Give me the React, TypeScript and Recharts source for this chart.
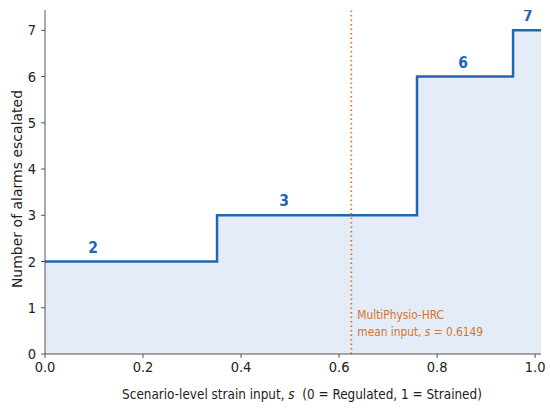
import React from 'react'
import { ComposedChart, Area, Scatter, XAxis, YAxis, ReferenceLine } from 'recharts'

// step positions (s) and escalated alarm counts
const stepStarts = [0, 0.351, 0.759, 0.955, 1.012]
const alarmCounts = [2, 3, 6, 7, 7]

// bold count labels above each step
const labelPositions = [0.098, 0.488, 0.853, 0.985]
const labelValues = [2, 3, 6, 7]

const xTicks = [0, 0.2, 0.4, 0.6, 0.8, 1.0]
const yTicks = [0, 1, 2, 3, 4, 5, 6, 7]

// dotted marker line as drawn, and its annotation value
const meanLineX = 0.625
const meanInputText = '0.6149'

const BLUE = '#1f66b3'
const FILL = '#e3ecf7'
const ORANGE = '#d4742a'
const AXIS = '#555555'
const TEXT = '#222222'
const FONT = '"DejaVu Sans", sans-serif'
const FONT_C = '"DejaVu Sans Condensed", "DejaVu Sans", sans-serif'

const stepData = stepStarts.map((s, i) => ({ s, n: alarmCounts[i] }))
const labelData = labelPositions.map((s, i) => ({ s, n: labelValues[i], text: String(labelValues[i]) }))

const CountLabel = (props: any) => {
  const { cx, cy, payload } = props
  return (
    <text x={cx} y={cy - 9} textAnchor="middle" fill={BLUE} fontSize={15.5} fontWeight="bold" fontFamily={FONT_C}>
      {payload.text}
    </text>
  )
}

const MeanLabel = (props: any) => {
  const { viewBox } = props
  const x = viewBox.x + 6
  const y = viewBox.y + viewBox.height
  return (
    <text x={x} y={y} fill={ORANGE} fontSize={11.8} fontFamily={FONT_C}>
      <tspan x={x} y={y - 35}>MultiPhysio-HRC</tspan>
      <tspan x={x} y={y - 18}>mean input, <tspan fontStyle="italic">s</tspan> = {meanInputText}</tspan>
    </text>
  )
}

export default function App() {
  return (
    <div style={{ position: 'absolute', left: 0, top: 0, width: 550, height: 411, background: '#fff' }}>
      <ComposedChart width={550} height={411} data={stepData} margin={{ top: 10, right: 9, bottom: 27, left: 0 }}>
        <XAxis
          dataKey="s"
          type="number"
          domain={[0, 1.012]}
          ticks={xTicks}
          tickFormatter={(v: number) => v.toFixed(1)}
          allowDataOverflow
          stroke={AXIS}
          tickSize={4}
          tickMargin={4}
          height={30}
          tick={{ fill: TEXT, fontSize: 14.5, fontFamily: FONT_C }}
        />
        <YAxis
          type="number"
          domain={[0, 7.44]}
          ticks={yTicks}
          allowDataOverflow
          stroke={AXIS}
          tickSize={4}
          tickMargin={5}
          width={45}
          tick={{ fill: TEXT, fontSize: 14.5, fontFamily: FONT_C }}
        />
        <Area
          type="stepAfter"
          dataKey="n"
          stroke={BLUE}
          strokeWidth={2.5}
          fill={FILL}
          fillOpacity={1}
          isAnimationActive={false}
          dot={false}
          activeDot={false}
        />
        <ReferenceLine x={meanLineX} stroke={ORANGE} strokeWidth={1.8} strokeDasharray="1.5 3" label={<MeanLabel />} />
        <Scatter data={labelData} dataKey="n" shape={<CountLabel />} isAnimationActive={false} />
        <text x={302} y={399} textAnchor="middle" fill={TEXT} fontSize={13.4} fontFamily={FONT_C}>
          Scenario-level strain input, <tspan fontStyle="italic">s</tspan>{'\u00a0\u00a0'}(0 = Regulated, 1 = Strained)
        </text>
        <text
          x={17}
          y={189}
          textAnchor="middle"
          fill={TEXT}
          fontSize={14}
          fontFamily={FONT}
          transform="rotate(-90 17 189)"
          dominantBaseline="central"
        >
          Number of alarms escalated
        </text>
      </ComposedChart>
    </div>
  )
}
